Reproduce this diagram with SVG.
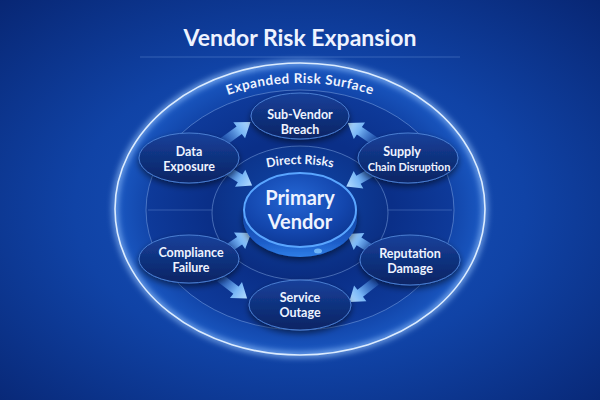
<svg xmlns="http://www.w3.org/2000/svg" xmlns:xlink="http://www.w3.org/1999/xlink" width="600" height="400" viewBox="0 0 600 400">
<defs>
  <radialGradient id="bg" cx="50%" cy="52%" r="75%">
    <stop offset="0" stop-color="#1a56c0"/>
    <stop offset="0.5" stop-color="#1043a6"/>
    <stop offset="1" stop-color="#072470"/>
  </radialGradient>
  <radialGradient id="outerFill" cx="50%" cy="50%" r="50%">
    <stop offset="0.72" stop-color="#0d3b9c"/>
    <stop offset="1" stop-color="#1a58c2"/>
  </radialGradient>
  <radialGradient id="midFill" cx="50%" cy="50%" r="50%">
    <stop offset="0.6" stop-color="#0a2f88"/>
    <stop offset="1" stop-color="#0e3a9a"/>
  </radialGradient>
  <radialGradient id="innerFill" cx="50%" cy="40%" r="60%">
    <stop offset="0" stop-color="#1048aa"/>
    <stop offset="1" stop-color="#0a2c80"/>
  </radialGradient>
  <linearGradient id="nodeFill" x1="0" y1="0" x2="0" y2="1">
    <stop offset="0" stop-color="#16409a"/>
    <stop offset="1" stop-color="#0a2464"/>
  </linearGradient>
  <radialGradient id="coreFace" cx="45%" cy="35%" r="65%">
    <stop offset="0" stop-color="#2466d4"/>
    <stop offset="0.7" stop-color="#1346ad"/>
    <stop offset="1" stop-color="#0d3896"/>
  </radialGradient>
  <linearGradient id="coreBase" x1="0" y1="0" x2="0" y2="1">
    <stop offset="0" stop-color="#0a2a7a"/>
    <stop offset="0.8" stop-color="#1c5cc8"/>
    <stop offset="1" stop-color="#2f7ee6"/>
  </linearGradient>
  <linearGradient id="arrGrad" x1="0" y1="0" x2="1" y2="0">
    <stop offset="0" stop-color="#3a78d4" stop-opacity="0.35"/>
    <stop offset="0.6" stop-color="#78b6f6"/>
    <stop offset="1" stop-color="#b4dcff"/>
  </linearGradient>
  <filter id="glow" x="-10%" y="-10%" width="120%" height="120%">
    <feGaussianBlur stdDeviation="3"/>
  </filter>
  <filter id="shadow" x="-20%" y="-20%" width="140%" height="150%">
    <feGaussianBlur in="SourceAlpha" stdDeviation="3"/>
    <feOffset dy="3"/>
    <feComponentTransfer><feFuncA type="linear" slope="0.5"/></feComponentTransfer>
    <feMerge><feMergeNode/><feMergeNode in="SourceGraphic"/></feMerge>
  </filter>
  <path id="arr" d="M0,-4.5 L20,-4.5 L20,-10 L34,0 L20,10 L20,4.5 L0,4.5 Z" fill="url(#arrGrad)"/>
  <path id="arcOuter" d="M130,210 A170,127 0 0 1 470,210"/>
  <path id="arcInner" d="M210,215 A90,51 0 0 1 390,215"/>
  <style>
    .lbl { font-family: Lato, "Open Sans", "Liberation Sans", sans-serif; font-weight: 700; fill: #eef3ff; text-anchor: middle; }
    .node { fill: url(#nodeFill); stroke: #4a7dd0; stroke-width: 1; }
    .ring { fill: none; stroke: #8fb4ee; stroke-opacity: 0.45; stroke-width: 1; }
  </style>
</defs>

<rect width="600" height="400" fill="url(#bg)"/>

<g id="title">
  <text x="300" y="46" class="lbl" font-size="23">Vendor Risk Expansion</text>
  <line x1="140" y1="57" x2="460" y2="57" stroke="#7fa8e8" stroke-opacity="0.35" stroke-width="1"/>
</g>

<g id="rings">
  <ellipse cx="300" cy="209" rx="185" ry="146" fill="url(#outerFill)"/>
  <ellipse cx="300" cy="209" rx="185" ry="146" fill="none" stroke="#9cc8ff" stroke-width="4" filter="url(#glow)"/>
  <ellipse cx="300" cy="209" rx="185" ry="146" fill="none" stroke="#dcecff" stroke-width="1.6"/>
  <ellipse cx="300" cy="210" rx="154" ry="120" class="ring" style="fill:url(#midFill)"/>
  <ellipse cx="300" cy="213" rx="88" ry="67" class="ring" style="fill:url(#innerFill)"/>
  <line x1="148" y1="210" x2="212" y2="210" stroke="#8fb4ee" stroke-opacity="0.3"/>
  <line x1="388" y1="210" x2="452" y2="210" stroke="#8fb4ee" stroke-opacity="0.3"/>
  <text class="lbl" font-size="13.5" letter-spacing="0.5"><textPath href="#arcOuter" startOffset="50%">Expanded Risk Surface</textPath></text>
  <text class="lbl" font-size="12.5"><textPath href="#arcInner" startOffset="50%">Direct Risks</textPath></text>
</g>

<g id="connectors">
  <use href="#arr" transform="translate(223,142) rotate(-36)"/>
  <use href="#arr" transform="translate(223,168) rotate(31)"/>
  <use href="#arr" transform="translate(376,142) rotate(-146)"/>
  <use href="#arr" transform="translate(376,170) rotate(151)"/>
  <use href="#arr" transform="translate(223,252) rotate(-34)"/>
  <use href="#arr" transform="translate(220,278) rotate(37)"/>
  <use href="#arr" transform="translate(376,252) rotate(-148)"/>
  <use href="#arr" transform="translate(376,281) rotate(142)"/>
</g>

<g id="primary-vendor">
  <ellipse cx="300" cy="218" rx="57" ry="39" fill="url(#coreBase)" filter="url(#shadow)"/>
  <ellipse cx="300" cy="210" rx="56" ry="37" fill="url(#coreFace)" stroke="#5aa6ff" stroke-width="2"/>
  <ellipse cx="318" cy="251" rx="4" ry="2.5" fill="#7fc4ff" opacity="0.8"/>
  <text x="300" y="205" class="lbl" font-size="20">Primary</text>
  <text x="300" y="229" class="lbl" font-size="20">Vendor</text>
</g>

<g id="sub-vendor-breach">
  <ellipse cx="300" cy="116" rx="49" ry="23" class="node" filter="url(#shadow)"/>
  <text x="300" y="119" class="lbl" font-size="12.5">Sub-Vendor</text>
  <text x="300" y="134" class="lbl" font-size="12.5">Breach</text>
</g>

<g id="data-exposure">
  <ellipse cx="189" cy="158" rx="50" ry="25" class="node" filter="url(#shadow)"/>
  <text x="189" y="156" class="lbl" font-size="12.5">Data</text>
  <text x="189" y="171" class="lbl" font-size="12.5">Exposure</text>
</g>

<g id="supply-chain-disruption">
  <ellipse cx="408" cy="158" rx="50" ry="25" class="node" filter="url(#shadow)"/>
  <text x="402" y="156" class="lbl" font-size="12.5">Supply</text>
  <text x="409" y="171" class="lbl" font-size="11">Chain Disruption</text>
</g>

<g id="compliance-failure">
  <ellipse cx="189" cy="259" rx="50" ry="24" class="node" filter="url(#shadow)"/>
  <text x="191" y="257" class="lbl" font-size="12.5">Compliance</text>
  <text x="191" y="272" class="lbl" font-size="12.5">Failure</text>
</g>

<g id="reputation-damage">
  <ellipse cx="410" cy="260" rx="50" ry="25" class="node" filter="url(#shadow)"/>
  <text x="410" y="258" class="lbl" font-size="12.5">Reputation</text>
  <text x="410" y="273" class="lbl" font-size="12.5">Damage</text>
</g>

<g id="service-outage">
  <ellipse cx="300" cy="305" rx="51" ry="25" class="node" filter="url(#shadow)"/>
  <text x="300" y="302" class="lbl" font-size="12.5">Service</text>
  <text x="300" y="317" class="lbl" font-size="12.5">Outage</text>
</g>
</svg>
